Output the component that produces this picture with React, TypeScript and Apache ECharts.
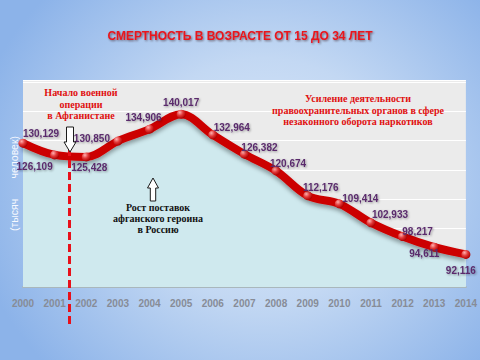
import React, { useEffect, useRef } from "react";
import * as echarts from "echarts";

const years = ["2000", "2001", "2002", "2003", "2004", "2005", "2006", "2007", "2008", "2009", "2010", "2011", "2012", "2013", "2014"];
const deaths = [130129, 126109, 125428, 130850, 134906, 140017, 132964, 126382, 120674, 112176, 109414, 102933, 98217, 94611, 92116];
const labelTexts = ["130,129", "126,109", "125,428", "130,850", "134,906", "140,017", "132,964", "126,382", "120,674", "112,176", "109,414", "102,933", "98,217", "94,611", "92,116"];
const titleText = "СМЕРТНОСТЬ В ВОЗРАСТЕ ОТ 15 ДО 34 ЛЕТ";
const yAxisName = "(тысяч       человек)";
const noteWar = "Начало военной\nоперации\nв Афганистане";
const noteHeroin = "Рост поставок\nафганского героина\nв Россию";
const noteLaw = "Усиление деятельности\nправоохранительных органов в сфере\nнезаконного оборота наркотиков";

// label placement (style only)
const labelOffsets: number[][] = [
  [18, -10], [-20, 12], [3, 11], [-26, -3], [-6, -12], [0, -12], [19, -7], [15, -7],
  [12, -7], [13, -8], [21, -5], [19, -8], [15, -5], [-10, 6], [-5, 16],
];

export default function App() {
  const ref = useRef<HTMLDivElement>(null);
  useEffect(() => {
    document.body.style.margin = "0";
    if (!ref.current) return;
    const chart = echarts.init(ref.current, null, { renderer: "svg" });
    const data = deaths.map((v, i) => ({
      value: v,
      label: {
        formatter: labelTexts[i],
        offset: labelOffsets[i],
      },
    }));
    const serif = "'Liberation Serif', 'Times New Roman', serif";
    chart.setOption({
      animation: false,
      backgroundColor: "transparent",
      title: {
        text: titleText,
        left: "center",
        top: 25,
        textStyle: {
          color: "#e8141c",
          fontSize: 12,
          fontWeight: "bold",
          fontFamily: "'Liberation Sans', Arial, sans-serif",
          textShadowColor: "rgba(40,0,0,0.55)",
          textShadowBlur: 2,
          textShadowOffsetX: 1,
          textShadowOffsetY: 1,
        },
      },
      grid: {
        left: 23,
        right: 11,
        top: 80,
        bottom: 73,
        show: true,
        backgroundColor: "#ebebeb",
        borderWidth: 0,
      },
      xAxis: {
        type: "category",
        data: years,
        boundaryGap: false,
        axisLine: { show: true, lineStyle: { color: "#a9b7bc", width: 2 } },
        axisTick: { show: false },
        axisLabel: {
          margin: 11,
          color: "#878c97",
          fontSize: 10,
          fontWeight: "bold",
          fontFamily: "'Liberation Sans', Arial, sans-serif",
        },
        splitLine: { show: false },
      },
      yAxis: [
        {
          type: "value",
          min: 81000,
          max: 151700,
          axisLine: { show: false },
          axisTick: { show: false },
          axisLabel: { show: false },
          splitLine: { show: false },
          name: yAxisName,
          nameLocation: "middle",
          nameRotate: 90,
          nameGap: 4,
          nameTextStyle: {
            color: "#f7f9ff",
            fontSize: 10.5,
            fontFamily: "'Liberation Sans', Arial, sans-serif",
          },
        },
        {
          type: "value",
          position: "left",
          min: 0,
          max: 70700,
          interval: 10000,
          axisLine: { show: false },
          axisTick: { show: false },
          axisLabel: { show: false },
          splitLine: { show: true, lineStyle: { color: "#ffffff", width: 1 } },
        },
      ],
      series: [
        {
          type: "line",
          yAxisIndex: 0,
          data,
          smooth: 0.35,
          symbol: "circle",
          symbolSize: 9,
          lineStyle: {
            color: "#cc0606",
            width: 8,
            shadowColor: "rgba(0,0,0,0.35)",
            shadowBlur: 4,
            shadowOffsetY: 3,
          },
          itemStyle: {
            color: new echarts.graphic.RadialGradient(0.35, 0.3, 0.7, [
              { offset: 0, color: "#ffb0b0" },
              { offset: 0.5, color: "#e23a3a" },
              { offset: 1, color: "#b00000" },
            ]),
            borderWidth: 0,
          },
          areaStyle: { color: "#cfe9ee", opacity: 1, origin: "start" },
          label: {
            show: true,
            position: "inside",
            align: "center",
            verticalAlign: "middle",
            color: "#5a2c6c",
            fontSize: 10,
            fontWeight: "bold",
            fontFamily: "'Liberation Sans Narrow', 'Liberation Sans', Arial, sans-serif",
            textShadowColor: "rgba(0,0,0,0.35)",
            textShadowBlur: 2,
            textShadowOffsetX: 1,
            textShadowOffsetY: 1,
          },
          z: 3,
        },
      ],
      graphic: [
        {
          type: "line",
          z: 100,
          shape: { x1: 69.5, y1: 148, x2: 69.5, y2: 328 },
          style: { stroke: "#e8101a", lineWidth: 3, lineDash: [8, 4] },
        },
        {
          type: "polygon",
          z: 101,
          shape: {
            points: [[66.5, 127], [73.5, 127], [73.5, 142], [76, 142], [70, 152], [64, 142], [66.5, 142]],
          },
          style: { fill: "#ffffff", stroke: "#1a1a1a", lineWidth: 1 },
        },
        {
          type: "polygon",
          z: 101,
          shape: {
            points: [[153, 178], [158.5, 188], [155.7, 188], [155.7, 201], [150.3, 201], [150.3, 188], [147.5, 188]],
          },
          style: { fill: "#ffffff", stroke: "#1a1a1a", lineWidth: 1 },
        },
        {
          type: "text",
          z: 102,
          x: 81,
          y: 87,
          style: {
            text: noteWar,
            fill: "#e01010",
            font: `bold 10px ${serif}`,
            align: "center",
            verticalAlign: "top",
            lineHeight: 11.5,
          },
        },
        {
          type: "text",
          z: 102,
          x: 158,
          y: 202,
          style: {
            text: noteHeroin,
            fill: "#111111",
            font: `bold 10px ${serif}`,
            align: "center",
            verticalAlign: "top",
            lineHeight: 11,
          },
        },
        {
          type: "text",
          z: 102,
          x: 358,
          y: 93,
          style: {
            text: noteLaw,
            fill: "#e01010",
            font: `bold 10px ${serif}`,
            align: "center",
            verticalAlign: "top",
            lineHeight: 11.5,
          },
        },
      ],
    });
    return () => chart.dispose();
  }, []);
  return (
    <div
      style={{
        width: 480,
        height: 360,
        background:
          "radial-gradient(ellipse 62% 75% at 55% 50%, #dce9f9 0%, #c3d8f3 45%, #8cb3e9 100%)",
      }}
    >
      <div ref={ref} style={{ width: 480, height: 360 }} />
    </div>
  );
}
